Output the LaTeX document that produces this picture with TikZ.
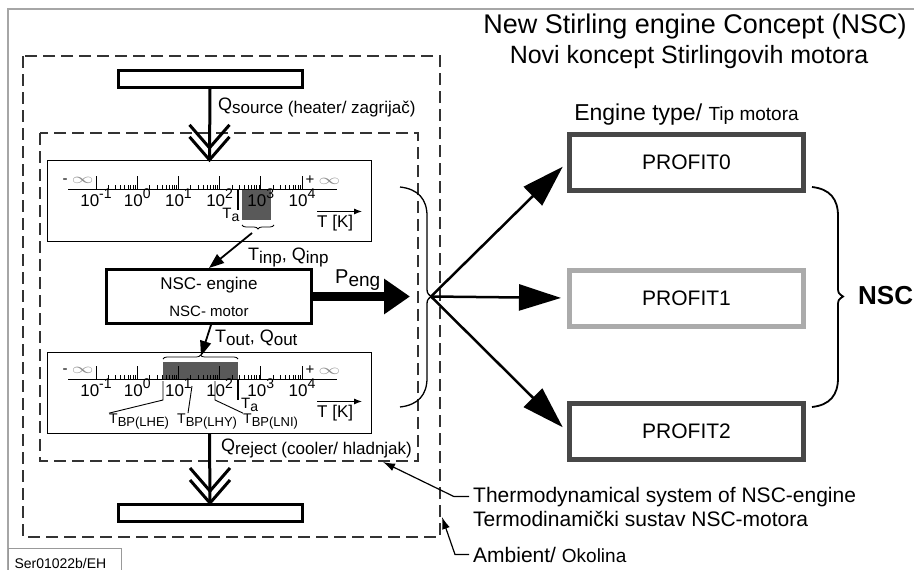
\documentclass[tikz,border=0pt]{standalone}
\usepackage{fontspec}
\setmainfont{Liberation Sans}
\usepackage{graphicx}
\usepackage{tikz}
\usetikzlibrary{arrows.meta,positioning,calc,decorations.pathreplacing}

\newcommand\fs[1]{\fontsize{#1}{#1}\selectfont}
\newcommand\lo[2]{\raisebox{-3pt}{\fs{#1}#2}}
\newcommand\hi[1]{\raisebox{0.42em}{\fs{14}#1}}
\newcommand\infsym{\textcolor{black!45}{\scalebox{1.5}[1]{$\infty$}}}
\newcommand\chevrons[1]{%
  \draw[flow] ([shift={(-20,-35)}]#1) -- ([shift={(0,-12)}]#1) -- ([shift={(20,-35)}]#1);
  \draw[flow] ([shift={(-20,-23)}]#1) -- (#1) -- ([shift={(20,-23)}]#1);}
\newcommand\tscale[2]{%
  \draw[line width=1pt] (68,#2) -- (337,#2);
  \foreach \ex [count=\dd from 0] in {-1,0,1,2,3,4} {
    \draw[line width=1pt] ({96+41.2*\dd},#2) -- ++(0,-13);
    \node[anchor=base,font=\fs{17}] (#1-\dd) at ({96+41.2*\dd},#2+17) {10\hi{\ex}};
    \ifnum\dd<5
      \foreach \k in {2,...,9}
        \draw[line width=.7pt] ({96+41.2*(\dd+log10(\k))},#2) -- ++(0,-4);
    \fi
  }
  \node[font=\fs{15}] (#1-minf) at (78,#2-9) {- \infsym};
  \node[font=\fs{15}] (#1-pinf) at (323,#2-9) {+ \infsym};}

\begin{document}
\begin{tikzpicture}[x=1pt,y=-1pt,>={Triangle[length=15pt,width=11pt]},
  every node/.style={inner sep=0pt},
  flow/.style={line width=3pt},
  frame/.style={draw,line width=3pt,minimum width=184pt},
  tbox/.style={draw,line width=1.3pt,minimum width=324pt,minimum height=81pt},
  sysline/.style={dash pattern=on 12pt off 6pt,line width=1.6pt,black!80},
  profit/.style={draw,line width=5pt,minimum width=234pt,minimum height=56pt,font=\fs{21}},
  fan/.style={-{Triangle[length=42pt,width=26pt]},line width=2.5pt,shorten >=6pt},
  lead/.style={-{Latex[length=12pt,width=8pt]},line width=1.2pt},
  axis/.style={-{Latex[length=8pt,width=6pt]},line width=1pt},
  lbl/.style={anchor=base west,font=\fs{18}}]
  \useasboundingbox (0,0) rectangle (914,570);
  \draw[black!35,line width=1.2pt] (8,580) -- (8,9) -- (920,9);
  \draw[sysline] (23,56) rectangle (440,537);
  \draw[sysline] (40,133) rectangle (418,461);

  \node[frame,minimum height=17pt] (heater) at (210,79) {};
  \node[tbox] (scaleA) at (209.5,201) {};
  \node[frame,minimum width=205pt,minimum height=54pt,align=center] (engine) at (209,296.5)
    {\fs{17}NSC- engine\\[12pt]\fs{15}NSC- motor};
  \node[tbox] (scaleB) at (209.5,393) {};
  \node[frame,minimum height=17pt] (cooler) at (210,513) {};

  % upper temperature scale
  \fill[black!65] (242,189) rectangle (271,220);
  \tscale{a}{189}
  \draw[line width=2pt] (238,189) -- (238,210);
  \node[anchor=base east,font=\fs{15}] (taA) at (239.5,218) {T\lo{14}{a}};
  \draw[decorate,decoration={brace,amplitude=4pt},line width=.8pt] (274,225) -- (242,225);
  \coordinate (tinp) at (252,233);
  \node[lbl,font=\fs{17}] (tkA) at (317,227) {T [K]};
  \draw[axis] ([yshift=3pt]tkA.north west) -- ++(45,0);

  % lower temperature scale
  \fill[black!65] (163,362) rectangle (238,379);
  \tscale{b}{379}
  \draw[line width=2pt] (238,379) -- (238,400);
  \node[lbl,font=\fs{15}] (taB) at (241,408) {T\lo{14}{a}};
  \draw[decorate,decoration={brace,amplitude=4pt},line width=.8pt] (163,359) -- (238,359);
  \coordinate (tout) at (201,356);
  \node[lbl,font=\fs{14}] (bp1) at (109,423) {T\lo{13}{BP(LHE)}};
  \node[lbl,font=\fs{14}] (bp2) at (177,423) {T\lo{13}{BP(LHY)}};
  \node[lbl,font=\fs{14}] (bp3) at (243,423) {T\lo{13}{BP(LNI)}};
  \draw[line width=.9pt] (163,381) -- (163,400) -- (bp1.north west);
  \draw[line width=.9pt] (192,386) -- ([xshift=11pt]bp2.north west);
  \draw[line width=.9pt] (215,381) -- (215,400) -- (bp3.north west);
  \node[lbl,font=\fs{17}] (tkB) at (317,417) {T [K]};
  \draw[axis] ([yshift=3pt]tkB.north west) -- ++(45,0);

  \node[lbl] (qsrc) at (218,110) {Q\lo{17}{source (heater/ zagrijač)}};
  \node[lbl] (qinp) at (248,260) {T\lo{17}{inp}, Q\lo{17}{inp}};
  \node[lbl] (qout) at (215,342) {T\lo{17}{out}, Q\lo{17}{out}};
  \node[lbl,font=\fs{20}] (peng) at (335,283) {P\lo{19}{eng}};
  \node[lbl] (qrej) at (221,451) {Q\lo{17}{reject (cooler/ hladnjak)}};

  \draw[flow] (heater.south) -- (scaleA.north);
  \chevrons{scaleA.north}
  \draw[->,line width=1.8pt] (tinp) -- (engine.north);
  \draw[->,line width=1.8pt] ([xshift=2pt]engine.south) -- (tout);
  \draw[flow] (scaleB.south) -- (cooler.north);
  \chevrons{cooler.north}
  \coordinate (pend) at (410,296.5);
  \draw[-{Triangle[length=26pt,width=34pt]},line width=9pt] (engine.east) -- (pend);

  % braces
  \draw[line width=1.3pt] (400,187) .. controls (418,189) and (427,199) .. (427,216) -- (427,286)
    .. controls (427,293) .. (431,296.5) .. controls (427,300) .. (427,307) -- (427,378)
    .. controls (427,395) and (418,405) .. (400,407);
  \coordinate (hub) at (431,296.5);
  \draw[line width=1.8pt] (812,187) .. controls (830,189) and (838,199) .. (838,216) -- (838,286)
    .. controls (838,293) .. (843,296.5) .. controls (838,300) .. (838,307) -- (838,378)
    .. controls (838,395) and (830,405) .. (812,407);

  \node[profit,draw=black!72] (p0) at (686.5,162.5) {PROFIT0};
  \node[profit,draw=black!33] (p1) at (686.5,298) {PROFIT1};
  \node[profit,draw=black!72] (p2) at (686.5,431.5) {PROFIT2};
  \node[above=7pt of p0] (etype) {\fs{23}Engine type/ \fs{19}Tip motora};
  \draw[fan] (hub) -- (p0.west);
  \draw[fan] (hub) -- (p1.west);
  \draw[fan] (hub) -- (p2.west);
  \node[anchor=west,font=\fs{26}\bfseries] (nsc) at (858,296) {NSC};

  \node[anchor=base] (title) at (695,33) {\fs{27}New Stirling engine Concept (NSC)};
  \node[anchor=base] (subtitle) at (689,63) {\fs{25}Novi koncept Stirlingovih motora};

  \node[anchor=base west,font=\fs{21}] (thermo) at (473,502) {Thermodynamical system of NSC-engine};
  \node[anchor=base west,font=\fs{21}] (thermo2) at (473,526) {Termodinamički sustav NSC-motora};
  \node[anchor=base west,font=\fs{21}] (amb) at (473,562) {Ambient/ \fs{19}Okolina};
  \coordinate (sysin) at (383,462);
  \coordinate (ambin) at (442,517);
  \draw[lead] ([xshift=-4pt]thermo.west) -- ++(-15,0) -- (sysin);
  \draw[lead] ([xshift=-4pt]amb.west) -- ++(-14,0) -- (ambin);

  \node[draw=black!40,line width=1pt,anchor=north west,minimum width=113pt,minimum height=30pt,
    text width=101pt,align=left,inner xsep=6pt,font=\fs{14}] (ser) at (8,548) {Ser01022b/EH};
\end{tikzpicture}
\end{document}
